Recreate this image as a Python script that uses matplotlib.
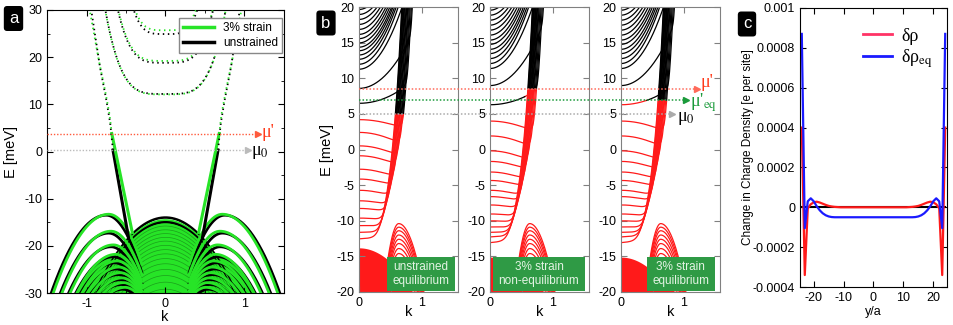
import numpy as np
import matplotlib.pyplot as plt
from matplotlib.lines import Line2D
from matplotlib.patches import Rectangle
from matplotlib.ticker import MultipleLocator, FixedLocator

plt.rcParams['font.family'] = ['Liberation Sans', 'DejaVu Sans']
plt.rcParams['mathtext.fontset'] = 'stix'
plt.rcParams['axes.unicode_minus'] = False

# ---------------- panel a : band structure, strained vs unstrained
a_mu_strain = 3.7
a_mu_0 = 0.3
a_edge_k_black = [0.47, 0.665]
a_edge_E_black = [-18.1, 0.3]
a_edge_k_green = [0.42, 0.68]
a_edge_E_green = [-17.2, 3.8]
a_cont_k_black = [0.665, 0.70, 0.75, 0.83, 0.94]
a_cont_E_black = [0.3, 6.0, 11.0, 18.0, 30.0]
a_cont_k_green = [0.68, 0.71, 0.76, 0.84, 0.96]
a_cont_E_green = [3.8, 8.0, 12.5, 19.0, 30.0]
a_cb_min_black = [12.2, 18.8, 24.9]
a_cb_min_green = [12.1, 19.2, 25.7]
a_cb_stiff = [53.0, 85.0, 195.0]
a_arch_peak_black = [-13.5, -17.3, -20.2, -22.3, -23.6, -24.9, -26.1, -27.2, -28.2, -29.2]
a_arch_k_black = [0.75, 0.72, 0.69, 0.66, 0.64, 0.62, 0.60, 0.58, 0.56, 0.54]
a_arch_peak_green = [-13.3, -16.9, -19.8, -21.8, -23.2, -24.5, -25.7, -26.8, -27.8, -28.8]
a_arch_k_green = [0.72, 0.69, 0.66, 0.63, 0.61, 0.59, 0.57, 0.55, 0.53, 0.51]
a_dome_black = [-14.0, -15.0, -15.8, -16.6, -17.4, -18.2, -19.0, -19.9, -20.8,
                -21.7, -22.7, -23.8, -25.0, -26.3, -27.7, -29.2]
a_dome_green = [-14.6, -15.5, -16.3, -17.1, -17.9, -18.7, -19.5, -20.4, -21.3,
                -22.3, -23.3, -24.4, -25.6, -26.9, -28.3, -29.8]

# ---------------- panel b : subbands, three cases
b_mu0 = 5.0
b_mu_ne = 8.5
b_mu_eq = 6.9
b_E0_unstr = [-13.0, -12.0, -11.0, -9.9, -8.5, -7.4, -5.9, -4.3, -2.9, -1.0, 0.4, 2.3,
              4.1, 6.4, 8.5, 11.2, 11.9, 12.6, 13.2, 13.8, 14.3, 14.9, 15.5, 16.1,
              16.8, 17.5, 18.2, 18.9, 19.6]
b_E0_str = [-13.6, -12.7, -12.0, -11.2, -10.3, -9.3, -8.0, -6.8, -5.9, -4.5, -3.3,
            -1.8, -0.3, 1.8, 3.9, 6.2, 8.9, 11.3, 12.0, 12.7, 13.4, 14.0, 14.7, 15.3,
            16.0, 16.7, 17.4, 18.1, 18.8, 19.5]
b_vb_top_unstr = -13.8
b_vb_top_str = -15.1
b_arch_peaks = [-10.4, -10.9, -11.4, -12.0, -12.6, -13.2, -13.9, -14.6, -15.4, -16.3, -17.3]
b_arch_k0 = 0.63
b_tags = ['unstrained\nequilibrium', '3% strain\nnon-equilibrium', '3% strain\nequilibrium']

# ---------------- panel c : charge density change
c_sites = np.arange(-24, 25)
c_drho_half = [0.00040, -0.00034, -0.000005, 0.000015, 0.000025, 0.000028, 0.000024,
               0.000018, 0.000012, 0.000007, 0.000004, 0.000002, 0.000001, 0.0, 0.0,
               0.0, 0.0, 0.0, 0.0, 0.0, 0.0, 0.0, 0.0, 0.0, 0.0]
c_drho_eq_half = [0.00087, -0.000105, 0.00003, 0.000045, 0.00003, 0.000005, -0.000015,
                  -0.00003, -0.00004, -0.000046, -0.000049, -0.00005, -0.00005, -0.00005,
                  -0.00005, -0.00005, -0.00005, -0.00005, -0.00005, -0.00005, -0.00005,
                  -0.00005, -0.00005, -0.00005, -0.00005]
c_drho = np.array(c_drho_half + c_drho_half[-2::-1])
c_drho_eq = np.array(c_drho_eq_half + c_drho_eq_half[-2::-1])

W, H = 954, 325
fig = plt.figure(figsize=(W / 100, H / 100), dpi=100)


def box(l, t, r, b):
    return [l / W, 1 - b / H, (r - l) / W, (b - t) / H]


def inward(ax, color='k'):
    ax.tick_params(which='both', direction='in', top=True, right=True,
                   labelsize=9, color=color)
    ax.tick_params(which='major', length=4)
    ax.tick_params(which='minor', length=2.5)
    for s in ax.spines.values():
        s.set_color(color)


GREEN = '#27e427'

# ================= panel a
ax = fig.add_axes(box(47, 10, 284, 293))
kk = np.linspace(-1.5, 1.5, 1201)


def arch(k, peak, k0, c_in=60.0, c_out=34.0):
    d = np.abs(k) - k0
    return peak - np.where(d < 0, c_in, c_out) * d ** 2


env = a_dome_green[0] - 20 * kk ** 2
for p, k0 in zip(a_arch_peak_green[3:], a_arch_k_green[3:]):
    env = np.maximum(env, arch(kk, p, k0))
ax.fill_between(kk, -31, env, color=GREEN, lw=0, zorder=1)

kd = np.linspace(-0.95, 0.95, 400)
for i, (tb, tg) in enumerate(zip(a_dome_black, a_dome_green)):
    if i < 2:
        ax.plot(kd, tb - 20 * kd ** 2, color='k', lw=1.8, zorder=2)
        ax.plot(kd, tg - 20 * kd ** 2, color=GREEN, lw=1.8, zorder=2)
    else:
        ax.plot(kd, tb - 20 * kd ** 2, color='k', lw=0.5, alpha=0.3, zorder=2)

ks = np.linspace(0.3, 1.55, 400)
for pb, kb0, pg, kg0 in zip(a_arch_peak_black, a_arch_k_black, a_arch_peak_green, a_arch_k_green):
    for sgn in (-1, 1):
        ax.plot(sgn * ks, arch(ks, pb, kb0), color='k', lw=2, zorder=3)
        ax.plot(sgn * ks, arch(ks, pg, kg0), color=GREEN, lw=2, zorder=3)

for sgn in (-1, 1):
    ax.plot(sgn * np.array(a_edge_k_black), a_edge_E_black, color='k', lw=2.2, zorder=4)
    ax.plot(sgn * np.array(a_edge_k_green), a_edge_E_green, color=GREEN, lw=2.2, zorder=4)
    ax.plot(sgn * np.array(a_cont_k_black), a_cont_E_black, color='k', lw=1.3,
            ls=(0, (0.8, 2.0)), zorder=4)
    ax.plot(sgn * np.array(a_cont_k_green), a_cont_E_green, color=GREEN, lw=1.3,
            ls=(0, (0.8, 2.0)), zorder=4)

kc = np.linspace(-1.0, 1.0, 600)
for eb, eg, b in zip(a_cb_min_black, a_cb_min_green, a_cb_stiff):
    ax.plot(kc, eg + b * kc ** 4, color=GREEN, lw=1.3, ls=(0, (0.8, 2.0)), zorder=4)
    ax.plot(kc, eb + b * kc ** 4, color='k', lw=1.3, ls=(1.3, (0.8, 2.0)), zorder=4)

ax.plot([-1.5, 1.17], [a_mu_strain] * 2, color='#ff5a3c', lw=1, ls=(0, (1, 1.3)), zorder=5)
ax.plot(1.17, a_mu_strain, marker='>', ms=5, color='#ff5a3c', zorder=5)
ax.text(1.21, a_mu_strain + 0.4, "μ'", color='#ff3a1a', fontsize=13,
        family='Liberation Serif', va='center', zorder=6)
ax.plot([-1.5, 1.04], [a_mu_0] * 2, color='#bbbbbb', lw=1, ls=(0, (1, 1.3)), zorder=5)
ax.plot(1.04, a_mu_0, marker='>', ms=5, color='#bbbbbb', zorder=5)
ax.text(1.08, a_mu_0 - 0.5, 'μ$_0$', color='k', fontsize=13,
        family='Liberation Serif', va='center', zorder=6)

ax.set_xlim(-1.5, 1.5)
ax.set_ylim(-30, 30)
ax.xaxis.set_major_locator(FixedLocator([-1, 0, 1]))
ax.xaxis.set_minor_locator(MultipleLocator(0.5))
ax.yaxis.set_major_locator(MultipleLocator(10))
ax.yaxis.set_minor_locator(MultipleLocator(5))
inward(ax)
ax.legend(handles=[Line2D([], [], color=GREEN, lw=2.5), Line2D([], [], color='k', lw=2.5)],
          labels=['3% strain', 'unstrained'], loc='upper right',
          bbox_to_anchor=(0.992, 0.972), borderaxespad=0, fontsize=8.5,
          fancybox=False, edgecolor='#888888', framealpha=1, handlelength=2.6,
          borderpad=0.35, labelspacing=0.25)
fig.text(165 / W, 1 - 317 / H, 'k', fontsize=10.5, ha='center', va='center')
fig.text(11 / W, 1 - 152 / H, 'E [meV]', fontsize=10.5, ha='center', va='center', rotation=90)

# ================= panel b


def subband(k, E0):
    curv = np.clip((E0 - 5.0) * 3.0, -4.0, 21.0)
    f = E0 + curv * k ** 2
    shift = -0.11 + 0.19 * np.clip((E0 + 14.0) / 24.0, 0, 1)
    g = 5.0 + 23.1 * (np.exp((k - 0.68 - shift) / 0.2) - 1.0)
    gap = 1.4
    return (f + g) / 2 + np.sqrt(((g - f) / 2) ** 2 + gap ** 2)


b_boxes = [box(359, 7, 458, 292), box(490, 7, 589, 292), box(621, 7, 720, 292)]
b_E0s = [b_E0_unstr, b_E0_str, b_E0_str]
b_vbs = [b_vb_top_unstr, b_vb_top_str, b_vb_top_str]
b_mu_bulk = [b_mu0, b_mu0, b_mu_eq]
b_mu_edge = [b_mu0, b_mu_ne, b_mu_eq]
tag_x = [(0.28, 0.97), (0.03, 0.96), (0.26, 0.95)]
kb = np.linspace(0, 1.6, 900)
RED = '#ff1a1a'

for j in range(3):
    ax = fig.add_axes(b_boxes[j])
    for E0 in b_E0s[j]:
        E = subband(kb, E0)
        red = (E < b_mu_bulk[j]) | ((E < b_mu_edge[j]) & (kb > 0.55))
        red_ext = red | np.r_[red[1:], False]
        blk_ext = (~red) | np.r_[False, (~red)[:-1]]
        ax.plot(kb, np.where(red_ext, E, np.nan), color=RED, lw=0.9)
        ax.plot(kb, np.where(blk_ext, E, np.nan), color='k', lw=0.9)
    # valence bulk and arches near the edge
    top = np.where(kb < 0.5, b_vbs[j] - 8 * kb ** 2, -30)
    d = kb - b_arch_k0
    for p in b_arch_peaks:
        Ea = p - np.where(d < 0, 170.0, 60.0) * d ** 2
        ax.plot(kb, Ea, color=RED, lw=0.9)
    Elow = b_arch_peaks[-1] - np.where(d < 0, 170.0, 60.0) * d ** 2
    ax.fill_between(kb, -21, np.maximum(top, Elow), color=RED, lw=0)

    x0, x1 = tag_x[j]
    ax.add_patch(Rectangle((x0, 0.004), x1 - x0, 0.12, transform=ax.transAxes,
                           facecolor='#2f9a45', edgecolor='none', zorder=8))
    ax.text((x0 + x1) / 2, 0.064, b_tags[j], transform=ax.transAxes, ha='center',
            va='center', color='#e4f4e4', fontsize=8.5, linespacing=1.25, zorder=9)

    ax.set_xlim(0, np.pi / 2)
    ax.set_ylim(-20, 20)
    ax.xaxis.set_major_locator(FixedLocator([0, 1]))
    ax.xaxis.set_minor_locator(FixedLocator([0.5]))
    ax.yaxis.set_major_locator(MultipleLocator(5))
    inward(ax, color='#808080')
    ax.tick_params(labelcolor='k')
    cx = (b_boxes[j][0] + b_boxes[j][2] / 2)
    fig.text(cx, 1 - 312 / H, 'k', fontsize=10.5, ha='center', va='center')

fig.text(327 / W, 1 - 150 / H, 'E [meV]', fontsize=10.5, ha='center', va='center', rotation=90)

ov = fig.add_axes(box(359, 7, 720, 292))
ov.set_xlim(0, 1)
ov.set_ylim(-20, 20)
ov.axis('off')
ov.set_zorder(10)
ov.plot([0, 0.935], [b_mu_ne] * 2, color='#ff6a5a', lw=1.1, ls=(0, (1, 1.3)))
ov.plot(0.935, b_mu_ne, marker='>', ms=5, color='#ff6a5a')
ov.text(0.947, b_mu_ne + 0.9, "μ'", color='#ff3a1a', fontsize=13,
        family='Liberation Serif', va='center')
ov.plot([0, 0.905], [b_mu_eq] * 2, color='#1a9a3a', lw=1.1, ls=(0, (1, 1.3)))
ov.plot(0.905, b_mu_eq, marker='>', ms=5, color='#1a9a3a')
ov.text(0.917, b_mu_eq - 0.3, "μ'$_{\\rm eq}$", color='#1a9a3a', fontsize=13,
        family='Liberation Serif', va='center')
ov.plot([0, 0.868], [b_mu0] * 2, color='#aaaaaa', lw=1.1, ls=(0, (1, 1.3)))
ov.plot(0.868, b_mu0, marker='>', ms=5, color='#aaaaaa')
ov.text(0.88, b_mu0 - 0.6, 'μ$_0$', color='k', fontsize=13,
        family='Liberation Serif', va='center')

# ================= panel c
ax = fig.add_axes(box(800, 8, 947, 287))
ax.plot([-24, 24], [0, 0], color='k', lw=1.5)
ax.plot(c_sites, c_drho, color=RED, lw=1.6)
ax.plot(c_sites, c_drho_eq, color='#1a1aff', lw=1.6)
ax.set_xlim(-24.6, 24.6)
ax.set_ylim(-0.0004, 0.001)
ax.xaxis.set_major_locator(MultipleLocator(10))
c_yt = [-0.0004, -0.0002, 0, 0.0002, 0.0004, 0.0006, 0.0008, 0.001]
ax.yaxis.set_major_locator(FixedLocator(c_yt))
ax.set_yticklabels(['-0.0004', '-0.0002', '0', '0.0002', '0.0004', '0.0006', '0.0008', '0.001'])
inward(ax)
ax.legend(handles=[Line2D([], [], color='#ff3366', lw=2), Line2D([], [], color='#1a1aff', lw=2)],
          labels=['δρ', 'δρ$_{\\rm eq}$'], loc='upper left', bbox_to_anchor=(0.43, 0.93),
          frameon=False, borderaxespad=0, borderpad=0, handlelength=1.6,
          handletextpad=0.5, labelspacing=0.15,
          prop={'family': 'Liberation Serif', 'size': 13})
fig.text(873 / W, 1 - 312 / H, 'y/a', fontsize=9, ha='center', va='center')
fig.text(748 / W, 1 - 147 / H, 'Change in Charge Density [e per site]', fontsize=8.5,
         ha='center', va='center', rotation=90)

# panel letters
for x, y, s in [(13.5, 18.5, 'a'), (326, 23, 'b'), (747, 24, 'c')]:
    fig.text(x / W, 1 - y / H, s, color='white', fontsize=12, ha='center', va='center',
             bbox=dict(boxstyle='round,pad=0.3,rounding_size=0.2', fc='black', ec='none'))

fig.savefig('out.png', dpi=100)
